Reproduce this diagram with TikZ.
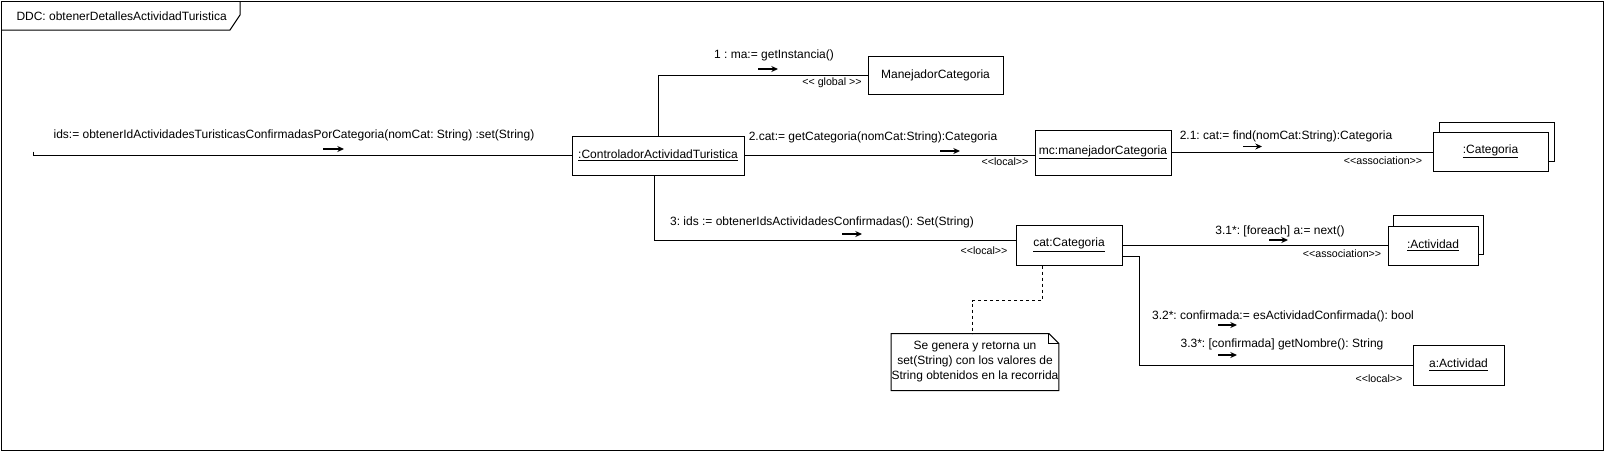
\documentclass[tikz,border=0pt]{standalone}
\usepackage{fontspec}
\setmainfont{Liberation Sans}
\usetikzlibrary{arrows.meta}
\frenchspacing

\tikzset{
  obj/.style={draw, fill=white, inner sep=0pt, font=\fontsize{9}{11}\selectfont},
  lbl/.style={inner sep=0pt, font=\fontsize{9}{11}\selectfont},
  stereo/.style={inner sep=0pt, font=\fontsize{8}{9}\selectfont},
  msg/.style={-{Stealth[length=5pt,width=4.5pt]}, line width=0.8pt},
  notelink/.style={dashed, dash pattern=on 2.5pt off 2pt}
}
\newcommand{\stype}[1]{{<}{<}#1{>}{>}}

\begin{document}
\begin{tikzpicture}[x=0.75pt, y=-0.75pt, line width=0.75pt]
\useasboundingbox (0,0) rectangle (1604,451);

% Frame with its title tab
\draw (1,1) rectangle (1603,450);
\draw (1,30) -- (230,30) -- (240,15) -- (240,1);
\node[lbl, anchor=west] (title) at (16,16) {DDC: obtenerDetallesActividadTuristica};

% Objects
\node[obj, minimum width=129pt, minimum height=29.25pt] (ctrl) at (658,155.5) {\underline{:ControladorActividadTuristica}};
\node[obj, minimum width=101.25pt, minimum height=28.5pt] (manej) at (935.5,75) {ManejadorCategoria};
\node[obj, minimum width=102pt, minimum height=33.75pt] (mc) at (1103,152.5) {\underline{mc:manejadorCategoria}};
\node[obj, minimum width=86.25pt, minimum height=29.25pt] (catsBack) at (1496.5,141.5) {};
\node[obj, minimum width=86.25pt, minimum height=29.25pt] (cats) at (1490.5,151.5) {\underline{:Categoria}};
\node[obj, minimum width=79.5pt, minimum height=30pt] (cat) at (1069,245) {\underline{cat:Categoria}};
\node[obj, minimum width=67.5pt, minimum height=29.25pt] (actsBack) at (1438,234.5) {};
\node[obj, minimum width=67.5pt, minimum height=29.25pt] (acts) at (1433,245.5) {\underline{:Actividad}};
\node[obj, minimum width=68.25pt, minimum height=30pt] (aAct) at (1458.5,365) {\underline{a:Actividad}};

% Note
\node[lbl, align=center, minimum width=123pt, minimum height=42pt,
  font=\fontsize{9}{11.25}\selectfont] (note) at (975,362)
  {Se genera y retorna un\\set(String) con los valores de\\String obtenidos en la recorrida};
\draw (note.north west) -- ([xshift=-7.5pt]note.north east) -- ([yshift=-7.5pt]note.north east)
  -- (note.south east) -- (note.south west) -- cycle;
\draw ([xshift=-7.5pt]note.north east) -- ([xshift=-7.5pt,yshift=-7.5pt]note.north east)
  -- ([yshift=-7.5pt]note.north east);

% Links
\coordinate (start) at (33,155.5);
\draw ([yshift=3pt]start) -- (start) -- (ctrl.west);
\draw (ctrl.north) |- (manej.west);
\draw (ctrl.east) -- (mc.west |- ctrl.east);
\draw (mc.east) -- (mc.east -| cats.west);
\draw ([xshift=-3pt]ctrl.south) |- ([yshift=3.75pt]cat.west);
\draw (cat.east) -- (cat.east -| acts.west);
\draw ([yshift=-8.25pt]cat.east) -- ++(17,0) |- (aAct.west);
\draw[notelink] ([xshift=-20.25pt]cat.south) -- ++(0,35) -| ([xshift=-2.25pt]note.north);

% Messages
\node[lbl] (m0) at (294,135) {ids:= obtenerIdActividadesTuristicasConfirmadasPorCategoria(nomCat: String) :set(String)};
\draw[msg] (323,149) -- (344,149);
\node[lbl] (m1) at (774,55) {1 : ma:= getInstancia()};
\draw[msg] (758,69) -- (778,69);
\node[stereo] (s1) at (832,83) {\stype{ global }};
\node[lbl] (m2) at (873,137) {2.cat:= getCategoria(nomCat:String):Categoria};
\draw[msg] (940,151) -- (960,151);
\node[stereo] (s2) at (1005,162) {\stype{local}};
\node[lbl] (m21) at (1286,136) {2.1: cat:= find(nomCat:String):Categoria};
\draw[msg] (1243,146.5) -- (1262,146.5);
\node[stereo] (s21) at (1383,161) {\stype{association}};
\node[lbl] (m3) at (822,222) {3: ids := obtenerIdsActividadesConfirmadas(): Set(String)};
\draw[msg] (842,234) -- (862,234);
\node[stereo] (s3) at (984,251) {\stype{local}};
\node[lbl] (m31) at (1280,231) {3.1*: [foreach] a:= next()};
\draw[msg] (1269,240) -- (1288,240);
\node[stereo] (s31) at (1342,254) {\stype{association}};
\node[lbl] (m32) at (1283,316) {3.2*: confirmada:= esActividadConfirmada(): bool};
\draw[msg] (1218,325) -- (1237,325);
\node[lbl] (m33) at (1282,344) {3.3*: [confirmada] getNombre(): String};
\draw[msg] (1218,355) -- (1237,355);
\node[stereo] (s33) at (1379,379) {\stype{local}};

\end{tikzpicture}
\end{document}
